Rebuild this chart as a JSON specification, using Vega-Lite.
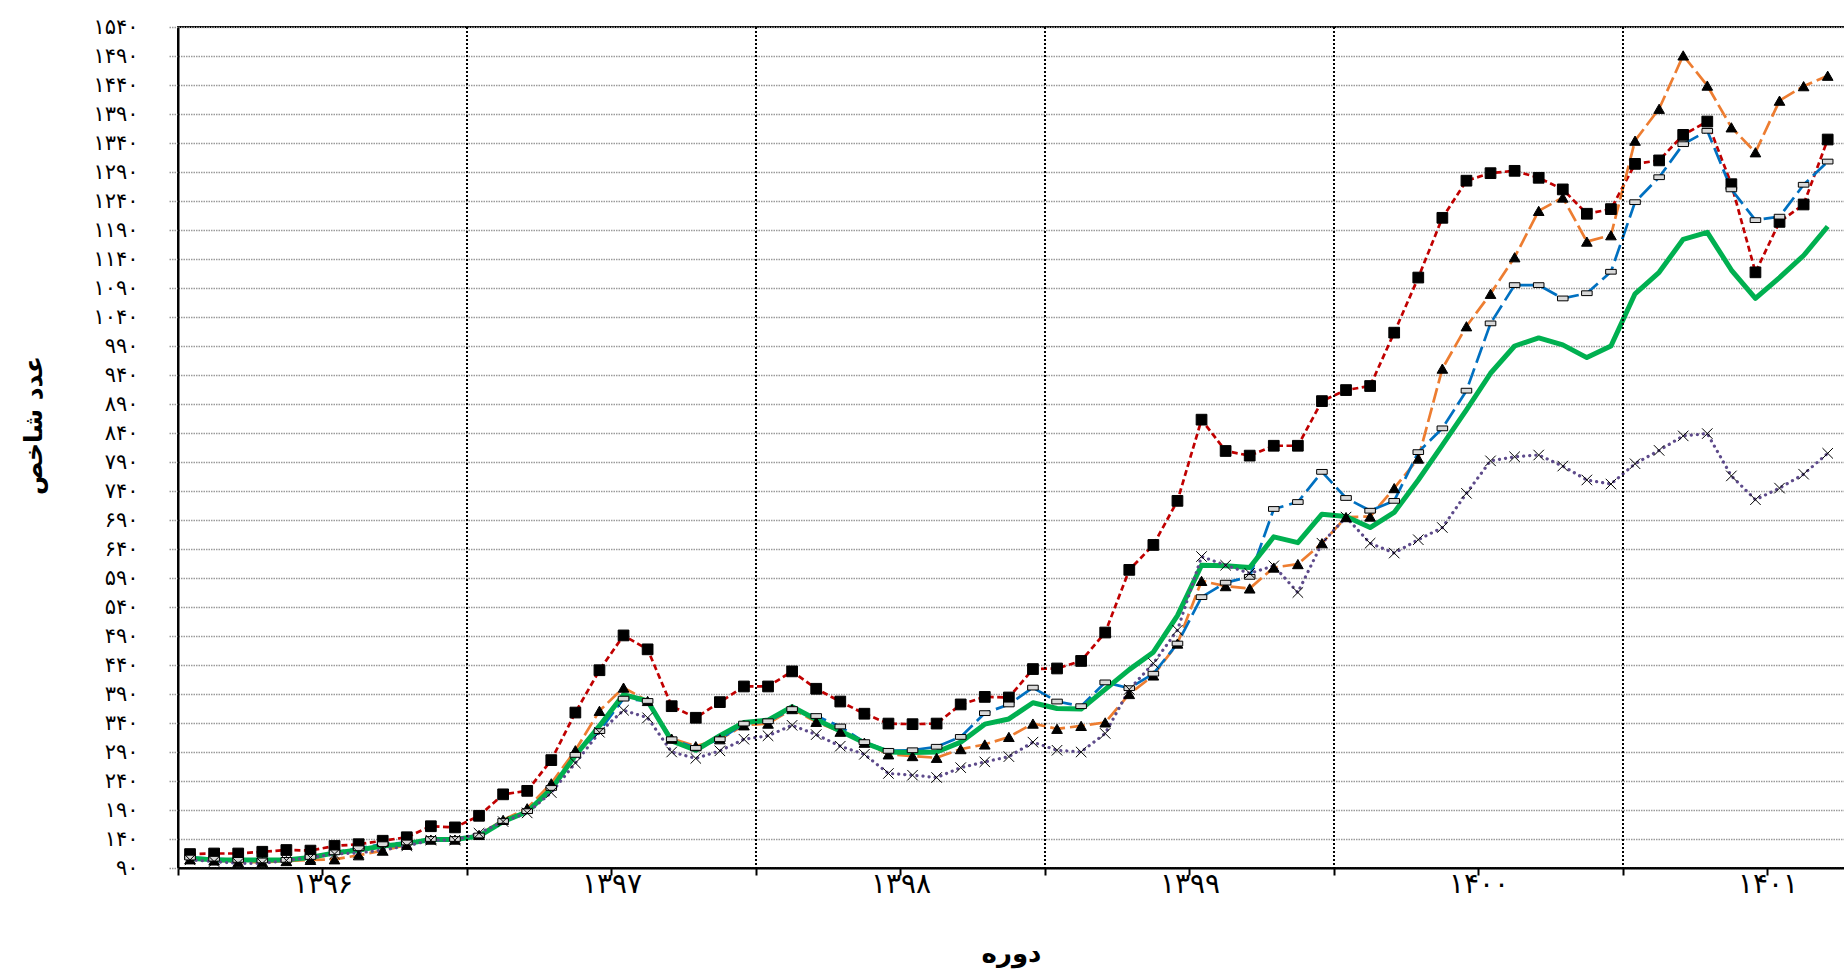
{
"$schema": "https://vega.github.io/schema/vega-lite/v6.json",
"width": 1668, "height": 841,
"autosize": {"type": "none"},
"padding": {"left": 178, "top": 27, "right": 0, "bottom": 106},
"background": "white",
"config": {"font": "DejaVu Sans", "view": {"stroke": "black", "strokeWidth": 2}},
"datasets": {
"years": [{"b": 11.5}, {"b": 23.5}, {"b": 35.5}, {"b": 47.5}, {"b": 59.5}],
"series": [
{"s":"A","m":0,"v":114},{"s":"A","m":1,"v":115},{"s":"A","m":2,"v":115},{"s":"A","m":3,"v":118},{"s":"A","m":4,"v":121},{"s":"A","m":5,"v":120},{"s":"A","m":6,"v":128},{"s":"A","m":7,"v":131},{"s":"A","m":8,"v":137},{"s":"A","m":9,"v":143},
{"s":"A","m":10,"v":162},{"s":"A","m":11,"v":160},{"s":"A","m":12,"v":180},{"s":"A","m":13,"v":217},{"s":"A","m":14,"v":223},{"s":"A","m":15,"v":276},{"s":"A","m":16,"v":358},{"s":"A","m":17,"v":431},{"s":"A","m":18,"v":491},{"s":"A","m":19,"v":467},
{"s":"A","m":20,"v":369},{"s":"A","m":21,"v":349},{"s":"A","m":22,"v":376},{"s":"A","m":23,"v":403},{"s":"A","m":24,"v":403},{"s":"A","m":25,"v":429},{"s":"A","m":26,"v":399},{"s":"A","m":27,"v":377},{"s":"A","m":28,"v":356},{"s":"A","m":29,"v":339},
{"s":"A","m":30,"v":338},{"s":"A","m":31,"v":339},{"s":"A","m":32,"v":372},{"s":"A","m":33,"v":385},{"s":"A","m":34,"v":384},{"s":"A","m":35,"v":433},{"s":"A","m":36,"v":434},{"s":"A","m":37,"v":447},{"s":"A","m":38,"v":496},{"s":"A","m":39,"v":604},
{"s":"A","m":40,"v":647},{"s":"A","m":41,"v":723},{"s":"A","m":42,"v":863},{"s":"A","m":43,"v":809},{"s":"A","m":44,"v":801},{"s":"A","m":45,"v":818},{"s":"A","m":46,"v":818},{"s":"A","m":47,"v":895},{"s":"A","m":48,"v":914},{"s":"A","m":49,"v":921},
{"s":"A","m":50,"v":1013},{"s":"A","m":51,"v":1108},{"s":"A","m":52,"v":1211},{"s":"A","m":53,"v":1275},{"s":"A","m":54,"v":1288},{"s":"A","m":55,"v":1292},{"s":"A","m":56,"v":1280},{"s":"A","m":57,"v":1260},{"s":"A","m":58,"v":1218},{"s":"A","m":59,"v":1226},
{"s":"A","m":60,"v":1304},{"s":"A","m":61,"v":1310},{"s":"A","m":62,"v":1354},{"s":"A","m":63,"v":1377},{"s":"A","m":64,"v":1269},{"s":"A","m":65,"v":1117},{"s":"A","m":66,"v":1204},{"s":"A","m":67,"v":1234},{"s":"A","m":68,"v":1346},
{"s":"B","m":0,"v":105},{"s":"B","m":1,"v":103},{"s":"B","m":2,"v":100},{"s":"B","m":3,"v":100},{"s":"B","m":4,"v":102},{"s":"B","m":5,"v":104},{"s":"B","m":6,"v":105},{"s":"B","m":7,"v":112},{"s":"B","m":8,"v":120},{"s":"B","m":9,"v":130},
{"s":"B","m":10,"v":139},{"s":"B","m":11,"v":139},{"s":"B","m":12,"v":147},{"s":"B","m":13,"v":173},{"s":"B","m":14,"v":193},{"s":"B","m":15,"v":236},{"s":"B","m":16,"v":293},{"s":"B","m":17,"v":361},{"s":"B","m":18,"v":401},{"s":"B","m":19,"v":378},
{"s":"B","m":20,"v":313},{"s":"B","m":21,"v":300},{"s":"B","m":22,"v":312},{"s":"B","m":23,"v":336},{"s":"B","m":24,"v":339},{"s":"B","m":25,"v":364},{"s":"B","m":26,"v":342},{"s":"B","m":27,"v":325},{"s":"B","m":28,"v":306},{"s":"B","m":29,"v":286},
{"s":"B","m":30,"v":283},{"s":"B","m":31,"v":280},{"s":"B","m":32,"v":295},{"s":"B","m":33,"v":303},{"s":"B","m":34,"v":316},{"s":"B","m":35,"v":339},{"s":"B","m":36,"v":330},{"s":"B","m":37,"v":335},{"s":"B","m":38,"v":341},{"s":"B","m":39,"v":390},
{"s":"B","m":40,"v":422},{"s":"B","m":41,"v":477},{"s":"B","m":42,"v":585},{"s":"B","m":43,"v":576},{"s":"B","m":44,"v":572},{"s":"B","m":45,"v":608},{"s":"B","m":46,"v":614},{"s":"B","m":47,"v":650},{"s":"B","m":48,"v":695},{"s":"B","m":49,"v":696},
{"s":"B","m":50,"v":745},{"s":"B","m":51,"v":796},{"s":"B","m":52,"v":951},{"s":"B","m":53,"v":1024},{"s":"B","m":54,"v":1080},{"s":"B","m":55,"v":1143},{"s":"B","m":56,"v":1223},{"s":"B","m":57,"v":1246},{"s":"B","m":58,"v":1170},{"s":"B","m":59,"v":1181},
{"s":"B","m":60,"v":1344},{"s":"B","m":61,"v":1399},{"s":"B","m":62,"v":1491},{"s":"B","m":63,"v":1439},{"s":"B","m":64,"v":1367},{"s":"B","m":65,"v":1324},{"s":"B","m":66,"v":1413},{"s":"B","m":67,"v":1438},{"s":"B","m":68,"v":1456},
{"s":"C","m":0,"v":108},{"s":"C","m":1,"v":106},{"s":"C","m":2,"v":104},{"s":"C","m":3,"v":103},{"s":"C","m":4,"v":104},{"s":"C","m":5,"v":109},{"s":"C","m":6,"v":117},{"s":"C","m":7,"v":124},{"s":"C","m":8,"v":131},{"s":"C","m":9,"v":134},
{"s":"C","m":10,"v":140},{"s":"C","m":11,"v":140},{"s":"C","m":12,"v":146},{"s":"C","m":13,"v":171},{"s":"C","m":14,"v":188},{"s":"C","m":15,"v":228},{"s":"C","m":16,"v":285},{"s":"C","m":17,"v":326},{"s":"C","m":18,"v":382},{"s":"C","m":19,"v":378},
{"s":"C","m":20,"v":312},{"s":"C","m":21,"v":297},{"s":"C","m":22,"v":312},{"s":"C","m":23,"v":339},{"s":"C","m":24,"v":343},{"s":"C","m":25,"v":364},{"s":"C","m":26,"v":352},{"s":"C","m":27,"v":334},{"s":"C","m":28,"v":307},{"s":"C","m":29,"v":292},
{"s":"C","m":30,"v":293},{"s":"C","m":31,"v":299},{"s":"C","m":32,"v":316},{"s":"C","m":33,"v":357},{"s":"C","m":34,"v":372},{"s":"C","m":35,"v":401},{"s":"C","m":36,"v":377},{"s":"C","m":37,"v":369},{"s":"C","m":38,"v":410},{"s":"C","m":39,"v":400},
{"s":"C","m":40,"v":425},{"s":"C","m":41,"v":477},{"s":"C","m":42,"v":557},{"s":"C","m":43,"v":582},{"s":"C","m":44,"v":592},{"s":"C","m":45,"v":709},{"s":"C","m":46,"v":721},{"s":"C","m":47,"v":773},{"s":"C","m":48,"v":728},{"s":"C","m":49,"v":706},
{"s":"C","m":50,"v":723},{"s":"C","m":51,"v":807},{"s":"C","m":52,"v":848},{"s":"C","m":53,"v":913},{"s":"C","m":54,"v":1029},{"s":"C","m":55,"v":1095},{"s":"C","m":56,"v":1095},{"s":"C","m":57,"v":1072},{"s":"C","m":58,"v":1081},{"s":"C","m":59,"v":1118},
{"s":"C","m":60,"v":1238},{"s":"C","m":61,"v":1281},{"s":"C","m":62,"v":1338},{"s":"C","m":63,"v":1361},{"s":"C","m":64,"v":1260},{"s":"C","m":65,"v":1207},{"s":"C","m":66,"v":1213},{"s":"C","m":67,"v":1268},{"s":"C","m":68,"v":1308},
{"s":"D","m":0,"v":107},{"s":"D","m":1,"v":104},{"s":"D","m":2,"v":104},{"s":"D","m":3,"v":104},{"s":"D","m":4,"v":104},{"s":"D","m":5,"v":108},{"s":"D","m":6,"v":116},{"s":"D","m":7,"v":121},{"s":"D","m":8,"v":128},{"s":"D","m":9,"v":132},
{"s":"D","m":10,"v":139},{"s":"D","m":11,"v":139},{"s":"D","m":12,"v":145},{"s":"D","m":13,"v":170},{"s":"D","m":14,"v":187},{"s":"D","m":15,"v":226},{"s":"D","m":16,"v":284},{"s":"D","m":17,"v":335},{"s":"D","m":18,"v":389},{"s":"D","m":19,"v":378},
{"s":"D","m":20,"v":309},{"s":"D","m":21,"v":293},{"s":"D","m":22,"v":318},{"s":"D","m":23,"v":341},{"s":"D","m":24,"v":345},{"s":"D","m":25,"v":368},{"s":"D","m":26,"v":346},{"s":"D","m":27,"v":326},{"s":"D","m":28,"v":306},{"s":"D","m":29,"v":290},
{"s":"D","m":30,"v":289},{"s":"D","m":31,"v":290},{"s":"D","m":32,"v":307},{"s":"D","m":33,"v":338},{"s":"D","m":34,"v":347},{"s":"D","m":35,"v":375},{"s":"D","m":36,"v":365},{"s":"D","m":37,"v":364},{"s":"D","m":38,"v":398},{"s":"D","m":39,"v":432},
{"s":"D","m":40,"v":462},{"s":"D","m":41,"v":525},{"s":"D","m":42,"v":612},{"s":"D","m":43,"v":611},{"s":"D","m":44,"v":608},{"s":"D","m":45,"v":661},{"s":"D","m":46,"v":651},{"s":"D","m":47,"v":700},{"s":"D","m":48,"v":696},{"s":"D","m":49,"v":677},
{"s":"D","m":50,"v":703},{"s":"D","m":51,"v":759},{"s":"D","m":52,"v":819},{"s":"D","m":53,"v":880},{"s":"D","m":54,"v":943},{"s":"D","m":55,"v":990},{"s":"D","m":56,"v":1004},{"s":"D","m":57,"v":992},{"s":"D","m":58,"v":970},{"s":"D","m":59,"v":990},
{"s":"D","m":60,"v":1080},{"s":"D","m":61,"v":1117},{"s":"D","m":62,"v":1174},{"s":"D","m":63,"v":1186},{"s":"D","m":64,"v":1121},{"s":"D","m":65,"v":1072},{"s":"D","m":66,"v":1108},{"s":"D","m":67,"v":1146},{"s":"D","m":68,"v":1196},
{"s":"E","m":0,"v":104},{"s":"E","m":1,"v":101},{"s":"E","m":2,"v":98},{"s":"E","m":3,"v":98},{"s":"E","m":4,"v":103},{"s":"E","m":5,"v":108},{"s":"E","m":6,"v":114},{"s":"E","m":7,"v":116},{"s":"E","m":8,"v":121},{"s":"E","m":9,"v":128},
{"s":"E","m":10,"v":138},{"s":"E","m":11,"v":138},{"s":"E","m":12,"v":150},{"s":"E","m":13,"v":170},{"s":"E","m":14,"v":185},{"s":"E","m":15,"v":220},{"s":"E","m":16,"v":271},{"s":"E","m":17,"v":324},{"s":"E","m":18,"v":362},{"s":"E","m":19,"v":349},
{"s":"E","m":20,"v":290},{"s":"E","m":21,"v":279},{"s":"E","m":22,"v":292},{"s":"E","m":23,"v":312},{"s":"E","m":24,"v":318},{"s":"E","m":25,"v":336},{"s":"E","m":26,"v":320},{"s":"E","m":27,"v":300},{"s":"E","m":28,"v":286},{"s":"E","m":29,"v":253},
{"s":"E","m":30,"v":250},{"s":"E","m":31,"v":246},{"s":"E","m":32,"v":263},{"s":"E","m":33,"v":273},{"s":"E","m":34,"v":282},{"s":"E","m":35,"v":307},{"s":"E","m":36,"v":293},{"s":"E","m":37,"v":290},{"s":"E","m":38,"v":322},{"s":"E","m":39,"v":398},
{"s":"E","m":40,"v":443},{"s":"E","m":41,"v":500},{"s":"E","m":42,"v":627},{"s":"E","m":43,"v":612},{"s":"E","m":44,"v":598},{"s":"E","m":45,"v":611},{"s":"E","m":46,"v":565},{"s":"E","m":47,"v":650},{"s":"E","m":48,"v":695},{"s":"E","m":49,"v":650},
{"s":"E","m":50,"v":633},{"s":"E","m":51,"v":656},{"s":"E","m":52,"v":677},{"s":"E","m":53,"v":736},{"s":"E","m":54,"v":792},{"s":"E","m":55,"v":799},{"s":"E","m":56,"v":802},{"s":"E","m":57,"v":783},{"s":"E","m":58,"v":759},{"s":"E","m":59,"v":752},
{"s":"E","m":60,"v":787},{"s":"E","m":61,"v":810},{"s":"E","m":62,"v":835},{"s":"E","m":63,"v":839},{"s":"E","m":64,"v":766},{"s":"E","m":65,"v":725},{"s":"E","m":66,"v":745},{"s":"E","m":67,"v":769},{"s":"E","m":68,"v":805}
]
},
"layer": [
{
"data": {"name": "series"},
"transform": [{"filter": "datum.s == 'A' || datum.s == 'B' || datum.s == 'C'"}],
"mark": {"type": "line", "strokeCap": "butt", "strokeJoin": "round", "strokeWidth": 2.7},
"encoding": {
"x": {"field": "m", "type": "quantitative", "scale": {"domain": [-0.5, 68.76], "nice": false, "zero": false},
"axis": {"title": "دوره", "titleFontSize": 26, "titleFontWeight": "bold", "titleColor": "black", "titleX": 833, "titleY": 85, "titleBaseline": "middle", "titleAlign": "center",
"values": [-0.5, 5.5, 11.5, 17.5, 23.5, 29.5, 35.5, 41.5, 47.5, 53.5, 59.5, 65.5], "tickCount": 100,
"labelExpr": "datum.value == 5.5 ? '۱۳۹۶' : datum.value == 17.5 ? '۱۳۹۷' : datum.value == 29.5 ? '۱۳۹۸' : datum.value == 41.5 ? '۱۳۹۹' : datum.value == 53.5 ? '۱۴۰۰' : datum.value == 65.5 ? '۱۴۰۱' : ''",
"labelFontSize": 28, "labelColor": "black", "labelBaseline": "middle", "labelPadding": 9, "labelFlush": false, "labelOverlap": false,
"tickSize": 7, "tickColor": "black", "tickWidth": 2, "domainColor": "black", "domainWidth": 2, "grid": false}},
"y": {"field": "v", "type": "quantitative", "scale": {"domain": [90, 1540], "nice": false, "zero": false},
"axis": {"title": "عدد شاخص", "titleFontSize": 25, "titleFontWeight": "bold", "titleColor": "black", "titleAngle": -90, "titleX": -145, "titleY": 398, "titleAlign": "center", "titleBaseline": "middle",
"values": [90,140,190,240,290,340,390,440,490,540,590,640,690,740,790,840,890,940,990,1040,1090,1140,1190,1240,1290,1340,1390,1440,1490,1540], "tickCount": 100,
"labelExpr": "datum.value == 90 ? '۹۰' : datum.value == 140 ? '۱۴۰' : datum.value == 190 ? '۱۹۰' : datum.value == 240 ? '۲۴۰' : datum.value == 290 ? '۲۹۰' : datum.value == 340 ? '۳۴۰' : datum.value == 390 ? '۳۹۰' : datum.value == 440 ? '۴۴۰' : datum.value == 490 ? '۴۹۰' : datum.value == 540 ? '۵۴۰' : datum.value == 590 ? '۵۹۰' : datum.value == 640 ? '۶۴۰' : datum.value == 690 ? '۶۹۰' : datum.value == 740 ? '۷۴۰' : datum.value == 790 ? '۷۹۰' : datum.value == 840 ? '۸۴۰' : datum.value == 890 ? '۸۹۰' : datum.value == 940 ? '۹۴۰' : datum.value == 990 ? '۹۹۰' : datum.value == 1040 ? '۱۰۴۰' : datum.value == 1090 ? '۱۰۹۰' : datum.value == 1140 ? '۱۱۴۰' : datum.value == 1190 ? '۱۱۹۰' : datum.value == 1240 ? '۱۲۴۰' : datum.value == 1290 ? '۱۲۹۰' : datum.value == 1340 ? '۱۳۴۰' : datum.value == 1390 ? '۱۳۹۰' : datum.value == 1440 ? '۱۴۴۰' : datum.value == 1490 ? '۱۴۹۰' : '۱۵۴۰'",
"labelFontSize": 21, "labelColor": "black", "labelPadding": 30, "labelOverlap": false, "labelFlush": false,
"tickSize": 10, "tickColor": "#9a9a9a", "tickDash": [1.5, 1], "tickWidth": 1.5,
"grid": true, "gridColor": "#9a9a9a", "gridDash": [1.5, 1], "gridWidth": 1.5,
"domainColor": "black", "domainWidth": 2}},
"color": {"field": "s", "type": "nominal", "scale": {"domain": ["A", "B", "C"], "range": ["#C00000", "#ED7D31", "#0070C0"]}, "legend": null},
"strokeDash": {"field": "s", "type": "nominal", "scale": {"domain": ["A", "B", "C"], "range": [[6, 3.5], [15, 5], [17, 6]]}, "legend": null}
}
},
{
"data": {"name": "series"},
"transform": [{"filter": "datum.s == 'D'"}],
"mark": {"type": "line", "color": "#00B050", "strokeWidth": 5, "strokeJoin": "round"},
"encoding": {
"x": {"field": "m", "type": "quantitative"},
"y": {"field": "v", "type": "quantitative"}
}
},
{
"data": {"name": "series"},
"transform": [{"filter": "datum.s == 'E'"}],
"mark": {"type": "line", "color": "#5E4B8B", "strokeWidth": 3.2, "strokeDash": [0.1, 6], "strokeCap": "round"},
"encoding": {
"x": {"field": "m", "type": "quantitative"},
"y": {"field": "v", "type": "quantitative"}
}
},
{
"data": {"name": "years"},
"mark": {"type": "rule", "color": "black", "strokeDash": [2, 2], "strokeWidth": 2},
"encoding": {"x": {"field": "b", "type": "quantitative"}}
},
{
"data": {"name": "series"},
"transform": [{"filter": "datum.s != 'D'"}],
"mark": {"type": "point", "filled": true, "opacity": 1, "stroke": "black"},
"encoding": {
"x": {"field": "m", "type": "quantitative"},
"y": {"field": "v", "type": "quantitative"},
"shape": {"field": "s", "type": "nominal", "scale": {"domain": ["A", "B", "C", "E"], "range": ["square", "triangle-up", "M-1,-0.45L1,-0.45L1,0.45L-1,0.45Z", "M-1,-1L1,1M1,-1L-1,1"]}, "legend": null},
"fill": {"field": "s", "type": "nominal", "scale": {"domain": ["A", "B", "C", "E"], "range": ["black", "black", "#d9d9d9", "transparent"]}, "legend": null},
"size": {"field": "s", "type": "nominal", "scale": {"domain": ["A", "B", "C", "E"], "range": [115, 110, 85, 130]}, "legend": null},
"strokeWidth": {"field": "s", "type": "nominal", "scale": {"domain": ["A", "B", "C", "E"], "range": [1, 1, 1.4, 2]}, "legend": null}
}
}
]
}
